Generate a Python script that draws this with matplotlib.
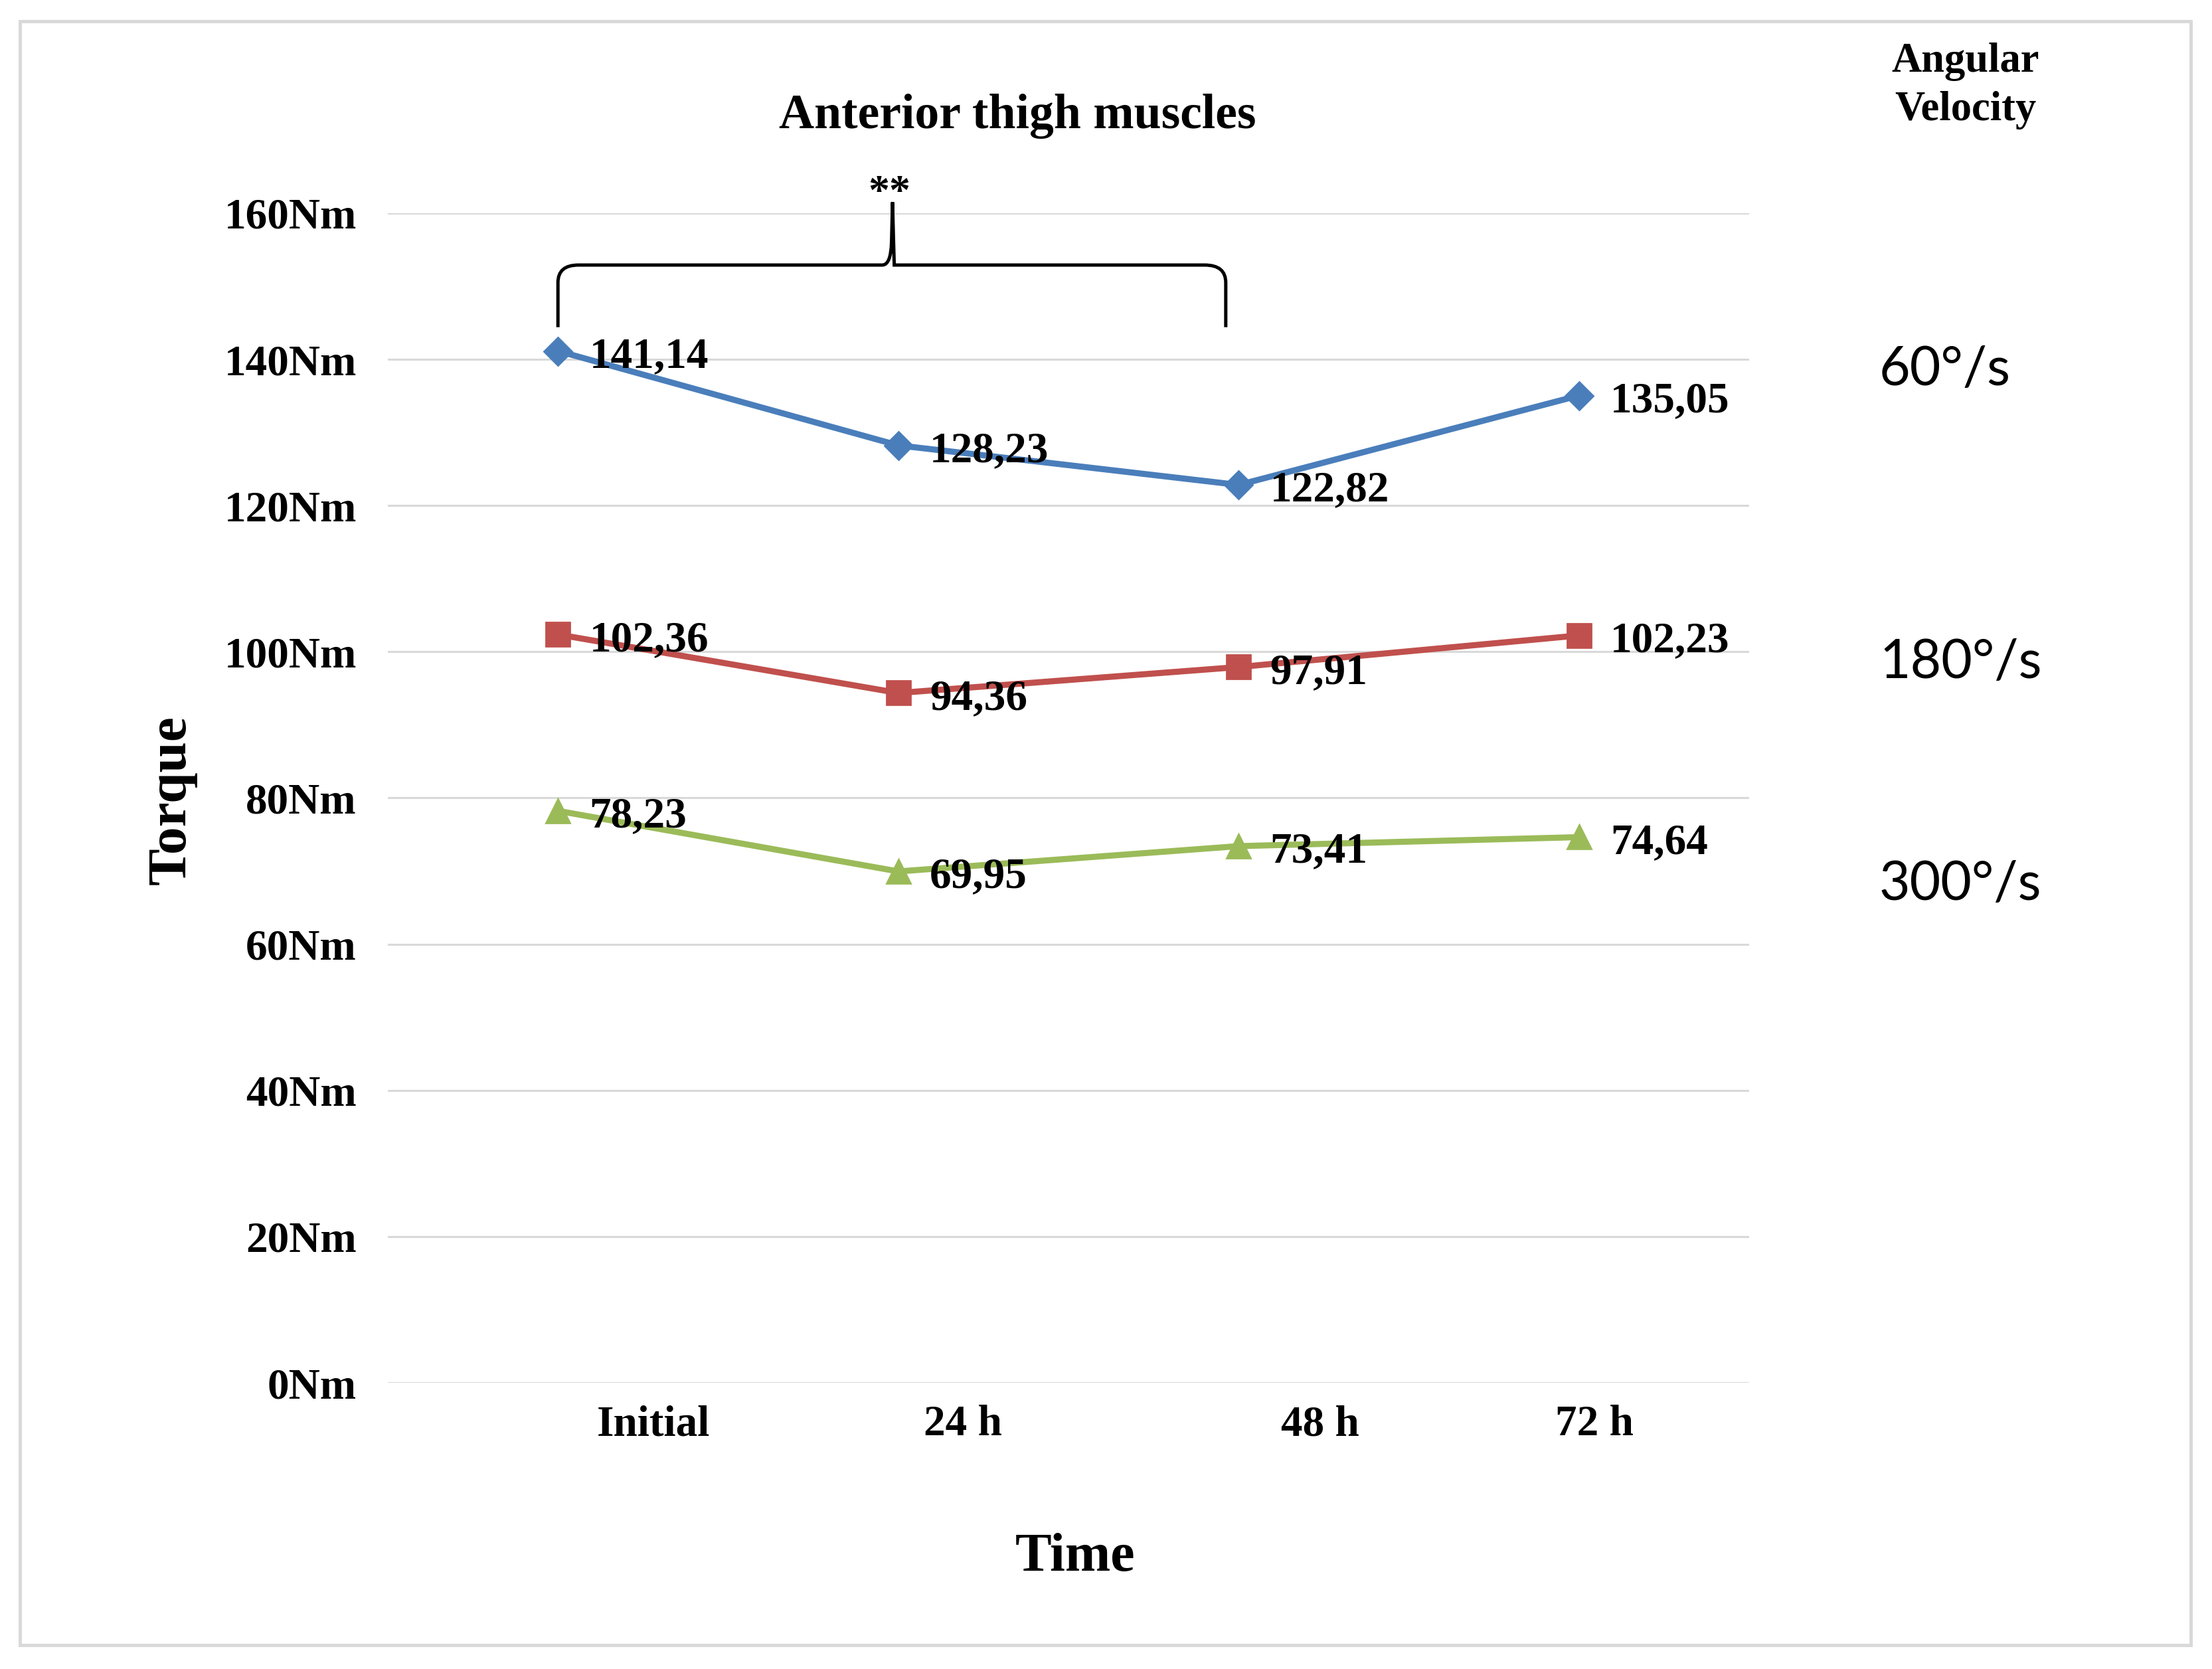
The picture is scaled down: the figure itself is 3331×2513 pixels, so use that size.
import numpy as np
import matplotlib.pyplot as plt
from matplotlib.path import Path
from matplotlib.patches import PathPatch, Rectangle

# data
times = ['Initial', '24 h', '48 h', '72 h']
v60 = [141.14, 128.23, 122.82, 135.05]
v180 = [102.36, 94.36, 97.91, 102.23]
v300 = [78.23, 69.95, 73.41, 74.64]
speeds = ['60°/s', '180°/s', '300°/s']
yticks = [0, 20, 40, 60, 80, 100, 120, 140, 160]

# layout: the category labels sit off-centre in the original
label_pos = [0.28, 1.19, 2.24, 3.045]

serif = 'Liberation Serif'
W, H = 3331, 2513
fig = plt.figure(figsize=(W / 200, H / 200), dpi=200)
fig.patch.set_facecolor('white')

# light frame round the whole picture
fig.patches.append(Rectangle((0.0089, 0.0144), 0.9815, 0.9729, transform=fig.transFigure,
                             fill=False, edgecolor='#d9d9d9', linewidth=1.8))

ax = fig.add_axes([0.1753, 0.1715, 0.6155, 0.7008])
x = np.arange(len(times))

series = [
    (v60, '#4a7ebb', 'D', 10.5),
    (v180, '#c0504d', 's', 13),
    (v300, '#9bbb59', '^', 13),
]
for vals, col, mk, ms in series:
    ax.plot(x, vals, color=col, lw=3.3, marker=mk, ms=ms, mfc=col, mec=col, zorder=3)
    for xi, v in zip(x, vals):
        ax.annotate(f'{v:.2f}'.replace('.', ','), (xi, v), xytext=(17, -3),
                    textcoords='offset points', ha='left', va='center',
                    fontsize=23.5, fontweight='bold', family=serif, zorder=4)

ax.set_xlim(-0.5, 3.5)
ax.set_ylim(0, 160)
ax.set_yticks(yticks)
ax.set_yticklabels([f'{t}Nm' for t in yticks], fontsize=23.5, fontweight='bold', family=serif)
ax.set_xticks(label_pos)
ax.set_xticklabels(times, fontsize=23.5, fontweight='bold', family=serif)
ax.tick_params(axis='y', length=0, pad=17)
ax.tick_params(axis='x', length=0, pad=12)
ax.grid(axis='y', color='#d9d9d9', lw=1.1)
ax.set_axisbelow(True)
for s in ax.spines.values():
    s.set_visible(False)

# brace over Initial..48 h
yb, yl, yp, xm = 152.9, 144.4, 161.5, 0.983
verts = [(0, yl), (0, 150.5), (0, yb), (0.06, yb),
         (xm - 0.03, yb), (xm - 0.005, yb), (xm - 0.003, 156), (xm, yp),
         (xm + 0.003, 156), (xm + 0.005, yb), (xm + 0.03, yb),
         (1.90, yb), (1.962, yb), (1.962, 150.5), (1.962, yl)]
codes = [Path.MOVETO, Path.LINETO, Path.CURVE3, Path.CURVE3,
         Path.LINETO, Path.CURVE3, Path.CURVE3, Path.LINETO,
         Path.CURVE3, Path.CURVE3, Path.LINETO,
         Path.LINETO, Path.CURVE3, Path.CURVE3, Path.LINETO]
ax.add_patch(PathPatch(Path(verts, codes), fill=False, edgecolor='black', lw=1.8, clip_on=False))
ax.text(xm - 0.01, 160.0, '**', ha='center', va='bottom', fontsize=23, fontweight='bold',
        family=serif, clip_on=False)

def fy(px):
    return 1 - px / H

fig.text(1532 / W, fy(175), 'Anterior thigh muscles', ha='center', va='center',
         fontsize=26.5, fontweight='bold', family=serif)
fig.text(2960 / W, fy(93), 'Angular', ha='center', va='center',
         fontsize=22.5, fontweight='bold', family=serif)
fig.text(2960 / W, fy(166), 'Velocity', ha='center', va='center',
         fontsize=22.5, fontweight='bold', family=serif)
for lab, py in zip(speeds, [557, 998, 1332]):
    fig.text(2830 / W, fy(py), lab, ha='left', va='center', fontsize=29, family='Lato')
fig.text(259 / W, fy(1205), 'Torque', ha='center', va='center', rotation=90,
         fontsize=30, fontweight='bold', family=serif)
fig.text(1619 / W, fy(2345), 'Time', ha='center', va='center',
         fontsize=29.5, fontweight='bold', family=serif)

plt.savefig('out.png', dpi=200)
